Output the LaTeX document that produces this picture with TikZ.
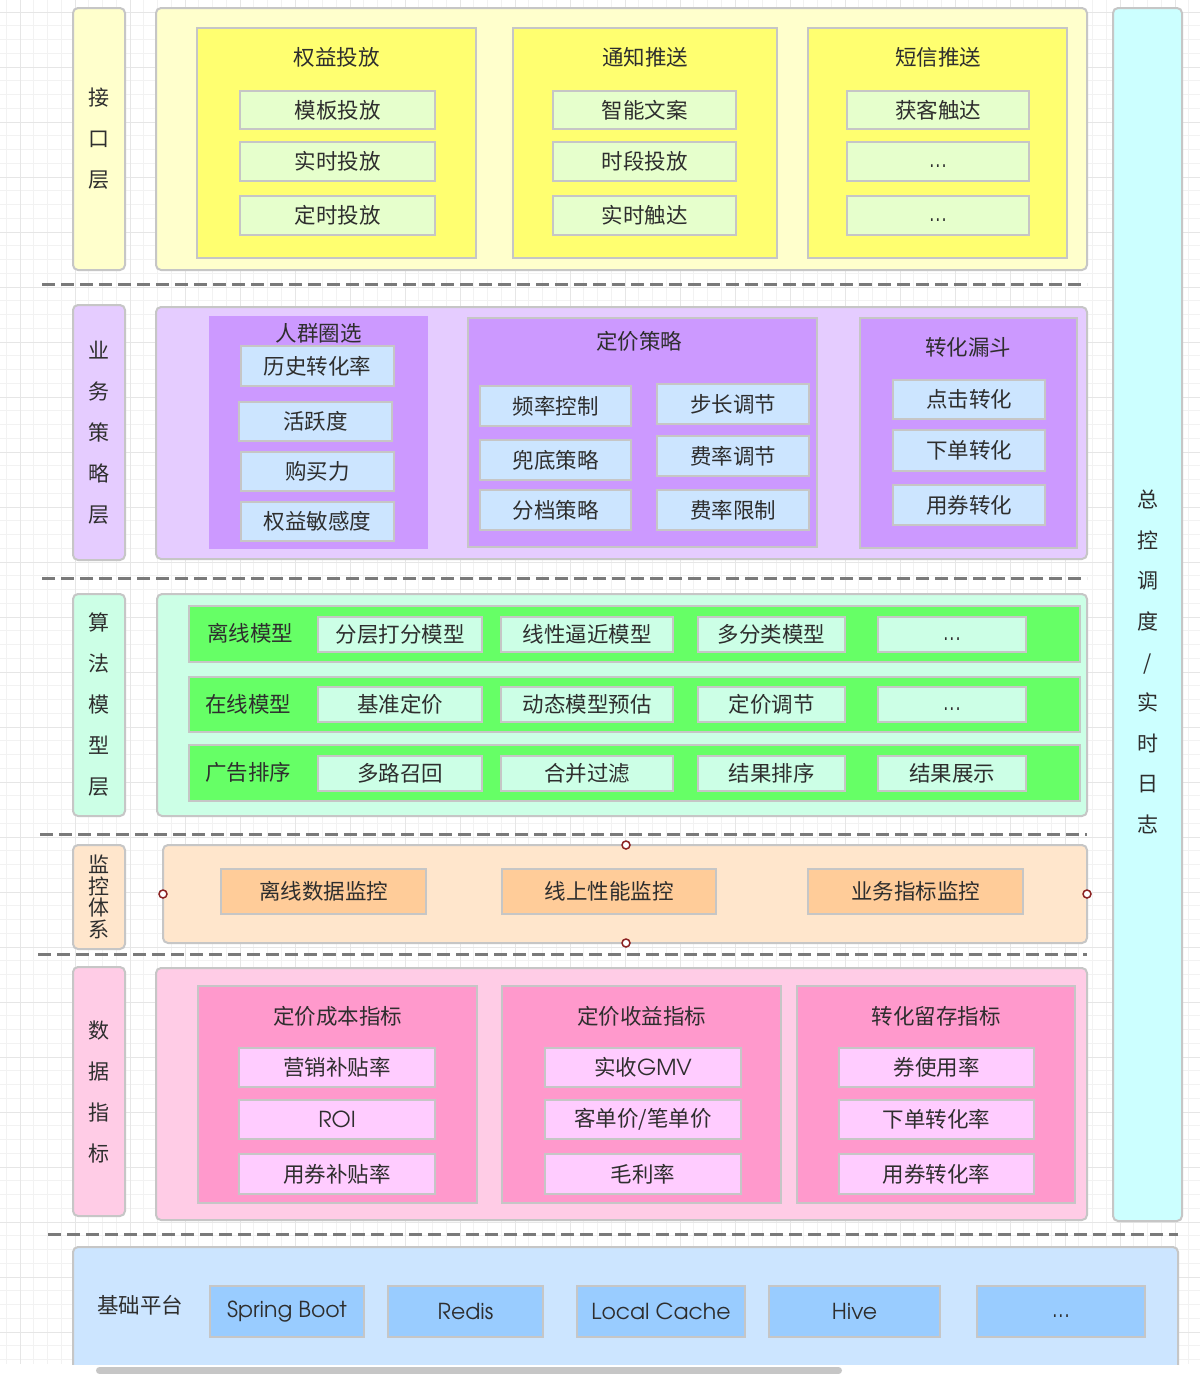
\documentclass[tikz,border=0pt]{standalone}
\usepackage{fontspec}
\setmainfont{Noto Sans CJK SC}
\newfontfamily\lat{texgyreadventor-regular.otf}
\definecolor{txtc}{HTML}{2E2E2E}
\definecolor{bordc}{HTML}{C6C6C6}
\definecolor{dashc}{HTML}{7A7A7A}
\definecolor{gridmin}{HTML}{F2F2F2}
\definecolor{gridmaj}{HTML}{E6E6E6}
\definecolor{ylwA}{HTML}{FFFFCC}
\definecolor{ylwB}{HTML}{FFFF70}
\definecolor{ylwC}{HTML}{E6FFCC}
\definecolor{purA}{HTML}{E5CCFF}
\definecolor{purB}{HTML}{CC99FF}
\definecolor{bluA}{HTML}{CCE5FF}
\definecolor{bluB}{HTML}{99CCFF}
\definecolor{grnA}{HTML}{CCFFE6}
\definecolor{grnB}{HTML}{66FF66}
\definecolor{orgA}{HTML}{FFE6CC}
\definecolor{orgB}{HTML}{FFCC99}
\definecolor{pnkA}{HTML}{FFCCE6}
\definecolor{pnkB}{HTML}{FF99CC}
\definecolor{pnkC}{HTML}{FFCCFF}
\definecolor{cyaA}{HTML}{CCFFFF}
\definecolor{hndc}{HTML}{8B2222}
\tikzset{
  txt/.style={text=txtc, font=\fontsize{21.5}{25}\selectfont, align=center},
  panel/.style={draw=bordc, line width=2pt, rounded corners=5pt, inner sep=0pt, outer sep=0pt, txt},
  lab/.style={panel},
  bx/.style={draw=bordc, line width=2.5pt, inner sep=0pt, outer sep=0pt, txt},
  ttl/.style={txt, inner sep=0pt},
  sepline/.style={draw=dashc, line width=3pt, dash pattern=on 13pt off 6pt},
  handle/.style={circle, draw=hndc, fill=white, line width=1.5pt, minimum size=8pt, inner sep=0pt},
  latf/.style={font=\lat\fontsize{22}{25}\selectfont},
}
\newcommand\mkbox[7]{%
  \pgfmathsetmacro\mbcx{(#3+#5)/2}%
  \pgfmathsetmacro\mbcy{(#4+#6)/2}%
  \pgfmathsetmacro\mbw{#5-#3}%
  \pgfmathsetmacro\mbh{#6-#4}%
  \node[#1, minimum width=\mbw pt, minimum height=\mbh pt] (#2) at (\mbcx,\mbcy) {#7};}
\newcommand\dotsx{\vphantom{Hg}...}
\begin{document}
\begin{tikzpicture}[x=1pt,y=-1pt]
\useasboundingbox (0,0) rectangle (1200,1374);
\fill[white] (0,0) rectangle (1200,1374);
% grid
\begin{scope}
\clip (0,0) rectangle (1200,1364);
\foreach \i in {0,...,88} {\draw[gridmin, line width=1pt] ({6.25+\i*13.75},0) -- ++(0,1364);}
\foreach \i in {0,...,99} {\draw[gridmin, line width=1pt] (0,{12+\i*13.75}) -- ++(1200,0);}
\foreach \i in {0,...,22} {\draw[gridmaj, line width=1pt] ({20+\i*55},0) -- ++(0,1364);}
\foreach \i in {0,...,24} {\draw[gridmaj, line width=1pt] (0,{12+\i*55}) -- ++(1200,0);}
\end{scope}

% ===== interface layer
\mkbox{lab, fill=ylwA, font=\fontsize{21}{41}\selectfont}{Lif}{73}{8}{125}{270}{接\\口\\层}
\mkbox{panel, fill=ylwA}{Pif}{156}{8}{1087}{270}{}
\mkbox{bx, fill=ylwB}{qy}{197}{28}{476}{258}{}
\node[ttl] (qyT) at (336.5,57) {权益投放};
\mkbox{bx, fill=ylwC}{qy1}{240}{91}{435}{129}{模板投放}
\mkbox{bx, fill=ylwC}{qy2}{240}{142}{435}{181}{实时投放}
\mkbox{bx, fill=ylwC}{qy3}{240}{196}{435}{235}{定时投放}
\mkbox{bx, fill=ylwB}{tz}{513}{28}{777}{258}{}
\node[ttl] (tzT) at (645,57) {通知推送};
\mkbox{bx, fill=ylwC}{tz1}{553}{91}{736}{129}{智能文案}
\mkbox{bx, fill=ylwC}{tz2}{553}{142}{736}{181}{时段投放}
\mkbox{bx, fill=ylwC}{tz3}{553}{196}{736}{235}{实时触达}
\mkbox{bx, fill=ylwB}{dx}{808}{28}{1067}{258}{}
\node[ttl] (dxT) at (938,57) {短信推送};
\mkbox{bx, fill=ylwC}{dx1}{847}{91}{1029}{129}{获客触达}
\mkbox{bx, fill=ylwC, latf}{dx2}{847}{142}{1029}{181}{\dotsx}
\mkbox{bx, fill=ylwC, latf}{dx3}{847}{196}{1029}{235}{\dotsx}

\coordinate (s1a) at (42,284); \coordinate (s1b) at (1087,284);
\draw[sepline] (s1a) -- (s1b);

% ===== business strategy layer
\mkbox{lab, fill=purA, font=\fontsize{21}{41}\selectfont}{Lbs}{73}{305}{125}{560}{业\\务\\策\\略\\层}
\mkbox{panel, fill=purA}{Pbs}{156}{307}{1087}{559}{}
\mkbox{bx, fill=purB, draw=none}{rq}{209}{316}{428}{549}{}
\node[ttl] (rqT) at (318.5,333) {人群圈选};
\mkbox{bx, fill=bluA}{rq1}{241}{346}{394}{386}{历史转化率}
\mkbox{bx, fill=bluA}{rq2}{239}{402}{392}{441}{活跃度}
\mkbox{bx, fill=bluA}{rq3}{241}{452}{394}{491}{购买力}
\mkbox{bx, fill=bluA}{rq4}{241}{502}{394}{541}{权益敏感度}
\mkbox{bx, fill=purB}{dj}{468}{318}{817}{547}{}
\node[ttl] (djT) at (639,341) {定价策略};
\mkbox{bx, fill=bluA}{dj1}{480}{386}{631}{426}{频率控制}
\mkbox{bx, fill=bluA}{dj2}{657}{384}{809}{424}{步长调节}
\mkbox{bx, fill=bluA}{dj3}{480}{440}{631}{480}{兜底策略}
\mkbox{bx, fill=bluA}{dj4}{657}{436}{809}{476}{费率调节}
\mkbox{bx, fill=bluA}{dj5}{480}{490}{631}{530}{分档策略}
\mkbox{bx, fill=bluA}{dj6}{657}{490}{809}{530}{费率限制}
\mkbox{bx, fill=purB}{zh}{860}{318}{1077}{548}{}
\node[ttl] (zhT) at (968,347) {转化漏斗};
\mkbox{bx, fill=bluA}{zh1}{893}{380}{1045}{419}{点击转化}
\mkbox{bx, fill=bluA}{zh2}{893}{430}{1045}{471}{下单转化}
\mkbox{bx, fill=bluA}{zh3}{893}{485}{1045}{525}{用券转化}

\coordinate (s2a) at (42,578); \coordinate (s2b) at (1087,578);
\draw[sepline] (s2a) -- (s2b);

% ===== algorithm model layer
\mkbox{lab, fill=grnA, font=\fontsize{21}{41}\selectfont}{Lalg}{73}{594}{125}{816}{算\\法\\模\\型\\层}
\mkbox{panel, fill=grnA}{Palg}{157}{594}{1087}{816}{}
\mkbox{bx, fill=grnB}{r1}{189}{606}{1080}{662}{}
\node[ttl] (r1T) at (250,633) {离线模型};
\mkbox{bx, fill=grnA}{r11}{318}{617}{482}{652}{分层打分模型}
\mkbox{bx, fill=grnA}{r12}{501}{617}{673}{652}{线性逼近模型}
\mkbox{bx, fill=grnA}{r13}{698}{617}{845}{652}{多分类模型}
\mkbox{bx, fill=grnA, latf}{r14}{878}{617}{1026}{652}{\dotsx}
\mkbox{bx, fill=grnB}{r2}{189}{677}{1080}{732}{}
\node[ttl] (r2T) at (248,704) {在线模型};
\mkbox{bx, fill=grnA}{r21}{318}{687}{482}{722}{基准定价}
\mkbox{bx, fill=grnA}{r22}{501}{687}{673}{722}{动态模型预估}
\mkbox{bx, fill=grnA}{r23}{698}{687}{845}{722}{定价调节}
\mkbox{bx, fill=grnA, latf}{r24}{878}{687}{1026}{722}{\dotsx}
\mkbox{bx, fill=grnB}{r3}{189}{745}{1080}{801}{}
\node[ttl] (r3T) at (248,772) {广告排序};
\mkbox{bx, fill=grnA}{r31}{318}{756}{482}{791}{多路召回}
\mkbox{bx, fill=grnA}{r32}{501}{756}{673}{791}{合并过滤}
\mkbox{bx, fill=grnA}{r33}{698}{756}{845}{791}{结果排序}
\mkbox{bx, fill=grnA}{r34}{878}{756}{1026}{791}{结果展示}

\coordinate (s3a) at (40,834); \coordinate (s3b) at (1087,834);
\draw[sepline] (s3a) -- (s3b);

% ===== monitoring
\mkbox{lab, fill=orgA, font=\fontsize{21}{21.5}\selectfont}{Lmon}{73}{845}{125}{949}{监\\控\\体\\系}
\mkbox{panel, fill=orgA}{Pmon}{163}{845}{1087}{943}{}
\mkbox{bx, fill=orgB}{m1}{221}{869}{426}{914}{离线数据监控}
\mkbox{bx, fill=orgB}{m2}{502}{869}{716}{914}{线上性能监控}
\mkbox{bx, fill=orgB}{m3}{808}{869}{1023}{914}{业务指标监控}
\node[handle] (h1) at (Pmon.west) {};
\node[handle] (h2) at (Pmon.east) {};
\node[handle] (h3) at (626,845) {};
\node[handle] (h4) at (626,943) {};

\coordinate (s4a) at (38,954); \coordinate (s4b) at (1087,954);
\draw[sepline] (s4a) -- (s4b);

% ===== data metrics
\mkbox{lab, fill=pnkA, font=\fontsize{21}{41}\selectfont}{Ldat}{73}{967}{125}{1216}{数\\据\\指\\标}
\mkbox{panel, fill=pnkA}{Pdat}{156}{968}{1087}{1220}{}
\mkbox{bx, fill=pnkB}{cb}{198}{986}{477}{1203}{}
\node[ttl] (cbT) at (337.5,1016) {定价成本指标};
\mkbox{bx, fill=pnkC}{cb1}{239}{1048}{435}{1087}{营销补贴率}
\mkbox{bx, fill=pnkC, latf}{cb2}{239}{1100}{435}{1139}{ROI}
\mkbox{bx, fill=pnkC}{cb3}{239}{1154}{435}{1194}{用券补贴率}
\mkbox{bx, fill=pnkB}{sy}{502}{986}{781}{1203}{}
\node[ttl] (syT) at (641.5,1016) {定价收益指标};
\mkbox{bx, fill=pnkC}{sy1}{545}{1048}{741}{1087}{实收{\lat\fontsize{22}{25}\selectfont GMV}}
\mkbox{bx, fill=pnkC}{sy2}{545}{1100}{741}{1139}{客单价/笔单价}
\mkbox{bx, fill=pnkC}{sy3}{545}{1154}{741}{1194}{毛利率}
\mkbox{bx, fill=pnkB}{lc}{797}{986}{1075}{1203}{}
\node[ttl] (lcT) at (936,1016) {转化留存指标};
\mkbox{bx, fill=pnkC}{lc1}{839}{1048}{1034}{1087}{券使用率}
\mkbox{bx, fill=pnkC}{lc2}{839}{1100}{1034}{1139}{下单转化率}
\mkbox{bx, fill=pnkC}{lc3}{839}{1154}{1034}{1194}{用券转化率}

% ===== right control column
\mkbox{panel, fill=cyaA}{Rctl}{1113}{8}{1182}{1221}{}
\node[ttl, font=\fontsize{21}{40.6}\selectfont] (RctlT) at (1148,662) {总\\控\\调\\度\\/\\实\\时\\日\\志};

\coordinate (s5a) at (48,1234); \coordinate (s5b) at (1178,1234);
\draw[sepline] (s5a) -- (s5b);

% ===== base platform
\begin{scope}
\clip (0,0) rectangle (1200,1364.5);
\mkbox{panel, fill=bluA}{Pbase}{73}{1247}{1178}{1390}{}
\end{scope}
\node[ttl] (baseT) at (140,1305) {基础平台};
\mkbox{bx, fill=bluB, latf}{b1}{210}{1286}{364}{1337}{Spring Boot}
\mkbox{bx, fill=bluB, latf}{b2}{388}{1286}{543}{1337}{Redis}
\mkbox{bx, fill=bluB, latf}{b3}{577}{1286}{745}{1337}{Local Cache}
\mkbox{bx, fill=bluB, latf}{b4}{769}{1286}{940}{1337}{Hive}
\mkbox{bx, fill=bluB, latf}{b5}{977}{1286}{1145}{1337}{\dotsx}

% scrollbar
\fill[bordc, rounded corners=3.5pt] (96,1367) rectangle (842,1374);
\end{tikzpicture}
\end{document}
